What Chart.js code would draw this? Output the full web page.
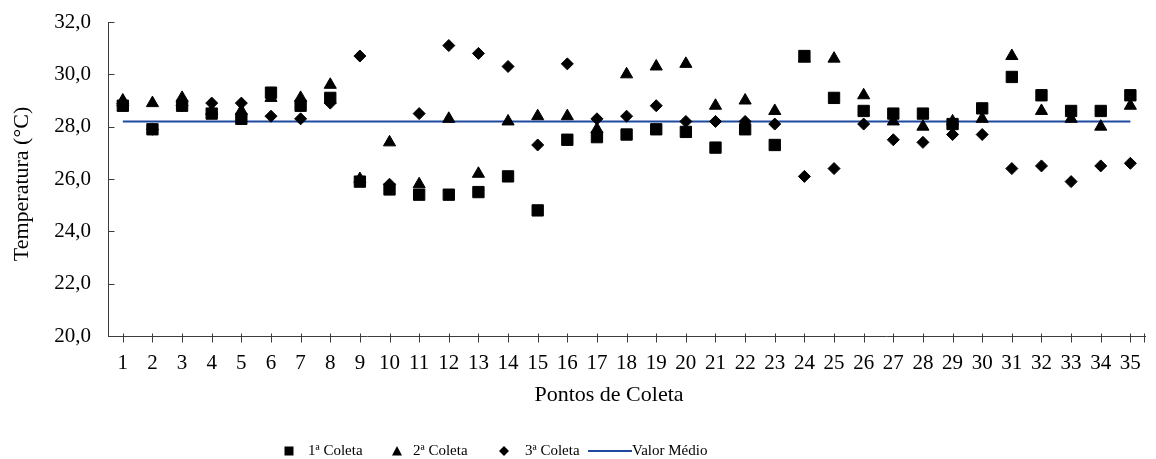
<!DOCTYPE html>
<html>
<head>
<meta charset="utf-8">
<script src="https://cdn.jsdelivr.net/npm/chart.js@4/dist/chart.umd.min.js"></script>
<style>
  html, body { margin: 0; padding: 0; background: #ffffff; }
  #wrap { width: 1156px; height: 459px; position: relative; }
</style>
</head>
<body>
<div id="wrap"><canvas id="grafico" width="1156" height="459"></canvas></div>
<script>
// Pontos de coleta (eixo X)
const categorias = ['1','2','3','4','5','6','7','8','9','10','11','12','13','14','15','16','17','18',
                    '19','20','21','22','23','24','25','26','27','28','29','30','31','32','33','34','35'];

// Temperatura (°C) em cada coleta
const coleta1 = [28.8, 27.9, 28.8, 28.5, 28.3, 29.3, 28.8, 29.1, 25.9, 25.6, 25.4, 25.4, 25.5, 26.1, 24.8,
                 27.5, 27.6, 27.7, 27.9, 27.8, 27.2, 27.9, 27.3, 30.7, 29.1, 28.6, 28.5, 28.5, 28.1, 28.7,
                 29.9, 29.2, 28.6, 28.6, 29.2];
const coleta2 = [29.0, 28.9, 29.1, 28.6, 28.6, 29.1, 29.1, 29.6, 26.0, 27.4, 25.8, 28.3, 26.2, 28.2, 28.4,
                 28.4, 27.9, 30.0, 30.3, 30.4, 28.8, 29.0, 28.6, 30.6, 30.6, 29.2, 28.2, 28.0, 28.2, 28.3,
                 30.7, 28.6, 28.3, 28.0, 28.8];
const coleta3 = [28.8, 27.9, 28.8, 28.9, 28.9, 28.4, 28.3, 28.9, 30.7, 25.8, 28.5, 31.1, 30.8, 30.3, 27.3,
                 30.4, 28.3, 28.4, 28.8, 28.2, 28.2, 28.2, 28.1, 26.1, 26.4, 28.1, 27.5, 27.4, 27.7, 27.7,
                 26.4, 26.5, 25.9, 26.5, 26.6];

// Valor médio da temperatura
const valorMedio = 28.2;

// Marcas do eixo Y
const yTicks = [20, 22, 24, 26, 28, 30, 32];

const nomesSeries = ['1ª Coleta', '2ª Coleta', '3ª Coleta', 'Valor Médio'];

const FONTE = '"Liberation Serif", "Times New Roman", serif';
const COR_EIXO = '#3c3c3c';
const COR_MEDIA = '#1d4a9f';

const fmt = v => Number(v).toFixed(1).replace('.', ',');

// Traços das marcas dos eixos, títulos dos eixos e legenda
const moldura = {
  id: 'moldura',
  afterDraw(chart) {
    const ctx = chart.ctx;
    const area = chart.chartArea;
    const xs = chart.scales.x;
    const ys = chart.scales.y;
    ctx.save();
    ctx.strokeStyle = COR_EIXO;
    ctx.lineWidth = 1;
    ctx.beginPath();
    // marcas do eixo X (atravessam o eixo)
    const yb = Math.round(area.bottom) + 0.5;
    categorias.forEach((c, i) => {
      const px = Math.round(xs.getPixelForValue(i)) + 0.5;
      ctx.moveTo(px, yb - 3);
      ctx.lineTo(px, yb + 6);
    });
    const pr = Math.round(area.right) - 0.5;
    ctx.moveTo(pr, yb - 3);
    ctx.lineTo(pr, yb + 6);
    // marcas do eixo Y (para dentro)
    const xl = Math.round(area.left) + 0.5;
    yTicks.forEach(v => {
      const py = Math.round(ys.getPixelForValue(v)) + 0.5;
      ctx.moveTo(xl, py);
      ctx.lineTo(xl + 6, py);
    });
    ctx.stroke();

    // títulos dos eixos
    ctx.fillStyle = '#000';
    ctx.font = '22px ' + FONTE;
    ctx.textAlign = 'center';
    ctx.textBaseline = 'middle';
    ctx.fillText('Pontos de Coleta', 609, 395);
    ctx.save();
    ctx.translate(22, 184);
    ctx.rotate(-Math.PI / 2);
    ctx.fillText('Temperatura (°C)', 0, 0);
    ctx.restore();

    // legenda
    const ly = 451;
    ctx.fillStyle = '#000';
    // quadrado
    ctx.fillRect(284.5, ly - 4.5, 9, 9);
    // triângulo
    ctx.beginPath();
    ctx.moveTo(397, ly - 5);
    ctx.lineTo(402, ly + 4.5);
    ctx.lineTo(392, ly + 4.5);
    ctx.closePath();
    ctx.fill();
    // losango
    ctx.beginPath();
    ctx.moveTo(504, ly - 5);
    ctx.lineTo(509, ly);
    ctx.lineTo(504, ly + 5);
    ctx.lineTo(499, ly);
    ctx.closePath();
    ctx.fill();
    // linha
    ctx.strokeStyle = COR_MEDIA;
    ctx.lineWidth = 2;
    ctx.beginPath();
    ctx.moveTo(588, ly);
    ctx.lineTo(632, ly);
    ctx.stroke();

    ctx.font = '15px ' + FONTE;
    ctx.textAlign = 'left';
    ctx.textBaseline = 'middle';
    ctx.fillText(nomesSeries[0], 308, ly);
    ctx.fillText(nomesSeries[1], 413, ly);
    ctx.fillText(nomesSeries[2], 525, ly);
    ctx.fillText(nomesSeries[3], 632, ly);
    ctx.restore();
  }
};

const pontos = (label, data, style, radius) => ({
  label,
  data,
  showLine: false,
  pointStyle: style,
  pointRadius: radius,
  pointHoverRadius: radius,
  pointBackgroundColor: '#000',
  pointBorderColor: '#000',
  pointBorderWidth: 1,
  backgroundColor: '#000',
  borderColor: '#000',
  order: 0
});

new Chart(document.getElementById('grafico'), {
  type: 'line',
  data: {
    labels: categorias,
    datasets: [
      pontos(nomesSeries[0], coleta1, 'rect', 8),
      pontos(nomesSeries[1], coleta2, 'triangle', 7),
      pontos(nomesSeries[2], coleta3, 'rectRot', 6),
      {
        label: nomesSeries[3],
        data: [{ x: categorias[0], y: valorMedio }, { x: categorias[categorias.length - 1], y: valorMedio }],
        borderColor: COR_MEDIA,
        borderWidth: 2,
        pointRadius: 0,
        fill: false,
        order: 1
      }
    ]
  },
  options: {
    responsive: false,
    animation: false,
    devicePixelRatio: 1,
    layout: { padding: { top: 22, right: 2, left: 0, bottom: 0 } },
    plugins: {
      legend: { display: false },
      tooltip: { enabled: false },
      title: { display: false }
    },
    scales: {
      x: {
        type: 'category',
        offset: true,
        grid: { display: false, drawTicks: false },
        border: { display: true, color: COR_EIXO, width: 1 },
        ticks: {
          color: '#000',
          font: { family: FONTE, size: 21 },
          padding: 15,
          maxRotation: 0,
          autoSkip: false
        },
        afterFit(scale) { scale.height = 123; }
      },
      y: {
        min: 20,
        max: 32,
        grid: { display: false, drawTicks: false },
        border: { display: true, color: COR_EIXO, width: 1 },
        afterBuildTicks(scale) { scale.ticks = yTicks.map(v => ({ value: v })); },
        ticks: {
          color: '#000',
          font: { family: FONTE, size: 21 },
          padding: 17,
          callback: v => fmt(v)
        },
        afterFit(scale) {
          scale.width = 108;
          scale.paddingTop = 0;
          scale.paddingBottom = 0;
        }
      }
    }
  },
  plugins: [moldura]
});
</script>
</body>
</html>
